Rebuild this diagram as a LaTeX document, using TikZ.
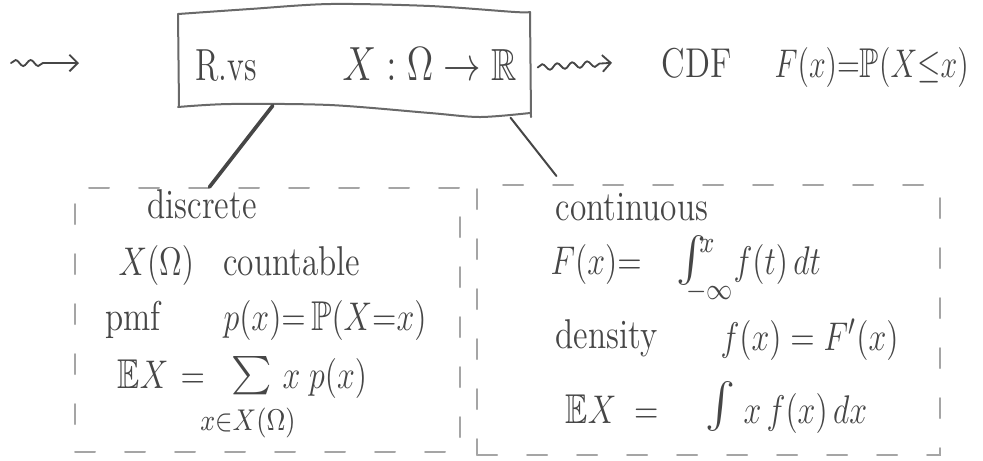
\documentclass[tikz,border=0pt]{standalone}
\usepackage{amssymb}
\usetikzlibrary{decorations.pathmorphing,arrows.meta,calc}
\definecolor{ink}{RGB}{70,70,70}
\definecolor{edgec}{RGB}{105,105,105}
\definecolor{dashc}{RGB}{165,165,165}
\tikzset{
  base/.style={inner sep=0pt, anchor=base west, text=ink},
  txt/.style={base, xscale=0.8, font=\fontsize{12.5}{14}\selectfont},
  small/.style={base, xscale=0.85, font=\fontsize{8.8}{10}\selectfont},
  bigop/.style={base, font=\fontsize{13.5}{15}\selectfont},
  sketch/.style={draw=edgec, line width=0.6pt, line cap=round, line join=round},
  dashbox/.style={draw=dashc, line width=0.6pt, dash pattern=on 6pt off 9pt, line cap=round, inner sep=0pt},
  squig/.style={draw=ink, line width=0.55pt, line cap=round, decorate,
    decoration={snake, amplitude=0.9pt, segment length=4.5pt, post length=3pt},
    -{Straight Barb[length=2.5pt,width=5pt]}},
}
\begin{document}
\begin{tikzpicture}[x=0.3pt,y=-0.3pt]
\useasboundingbox (0,0) rectangle (983,460);

% ---- top box ----
\node[minimum width=105.6pt, minimum height=33.9pt, inner sep=0pt] (box) at (354,60.5) {};
\draw[sketch] plot[smooth] coordinates {(178,14) (250,9) (330,4) (430,6) (515,12) (530,12)};
\draw[sketch] plot[smooth] coordinates {(178,107) (230,104) (330,105) (430,113) (480,117) (530,113)};
\draw[sketch] (178,14) -- (179,107);
\draw[sketch] (530,12) -- (531,117);
\node[base, xscale=0.72, font=\fontsize{13.5}{15}\selectfont] (rvs) at (195,80) {R.vs};
\node[base, xscale=0.78, font=\fontsize{13.5}{15}\selectfont] (map) at (342,80) {$X:\Omega\to\mathbb{R}$};

% ---- squiggly arrows ----
\coordinate (lsA) at (11,63);
\coordinate (lsB) at (79,63);
\draw[squig, decoration={post length=10pt}] (lsA) -- (lsB);

\node[txt] (cdf) at (661,77) {CDF};
\node[base, xscale=0.75, font=\fontsize{12.5}{14}\selectfont] (cdfF) at (774,77) {$F(x){=}\mathbb{P}(X{\le}x)$};
\draw[squig] ([shift={(7,7)}]box.east) -- ([xshift=-14.7pt]cdf.west);

% ---- dashed boxes ----
\node[dashbox, minimum width=115.5pt, minimum height=79.2pt] (disc) at (267.5,320) {};
\node[dashbox, minimum width=138.9pt, minimum height=81pt] (cont) at (708.5,320) {};

% ---- connectors ----
\draw[draw=ink, line width=1.1pt, line cap=round]
  ($(box.south west)!0.27!(box.south east)+(0,-12)$) -- ($(disc.north west)!0.35!(disc.north east)$);
\draw[draw=ink, line width=0.6pt, line cap=round]
  ($(box.south west)!0.943!(box.south east)$) -- ($(cont.north west)!0.173!(cont.north east)+(0,-8)$);

% ---- discrete ----
\node[txt] (dtitle) at (147,218) {discrete};
\node[txt] (dcount) at (118,275) {$X(\Omega)$\hspace{11pt}countable};
\node[txt] (pmf) at (105,330) {pmf};
\node[txt] (pmfF) at (223,330) {$p(x){=}\,\mathbb{P}(X{=}x)$};
\node[txt] (dEX) at (117,388) {$\mathbb{E}X$};
\node[txt] (deq) at (180,388) {$=$};
\node[base, font=\fontsize{11.5}{13}\selectfont] (dsum) at (231,386) {$\sum$};
\node[small, anchor=base] (dsub) at (248,430) {$x{\in}X(\Omega)$};
\node[txt] (dterm) at (282,388) {$x\;p(x)$};

% ---- continuous ----
\node[txt] (ctitle) at (555,220) {continuous};
\node[txt] (cF) at (550,274) {$F(x){=}$};
\node[bigop] (cint) at (676,272) {$\int$};
\node[small] (csup) at (699,252) {$x$};
\node[small] (csub) at (686,299) {$-\infty$};
\node[txt] (cft) at (733,274) {$f(t)\,dt$};
\node[txt] (dens) at (555,348) {density};
\node[txt] (densF) at (720,350) {$f(x)= F'(x)$};
\node[txt] (cEX) at (565,423) {$\mathbb{E}X\;=$};
\node[bigop] (cEint) at (705,418) {$\int$};
\node[txt] (cEterm) at (743,423) {$x\,f(x)\,dx$};
\end{tikzpicture}
\end{document}
